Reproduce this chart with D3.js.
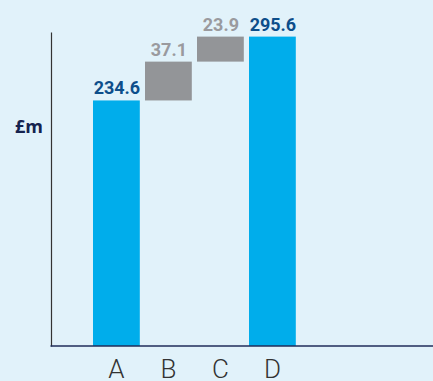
<!DOCTYPE html>
<html>
<head>
<meta charset="utf-8">
<script src="https://cdn.jsdelivr.net/npm/d3@7"></script>
<style>
  html, body { margin: 0; padding: 0; background: #e1f2fa; }
  svg { display: block; }
</style>
</head>
<body>
<svg id="chart" width="433" height="381"></svg>
<script>
// Waterfall: opening total, two increments, closing total (£m)
const categories = ["A", "B", "C", "D"];
const values = [234.6, 37.1, 23.9, 295.6];
const kinds = ["total", "step", "step", "total"];
const unitLabel = "£m";

const colors = { total: "#00adeb", step: "#939598" };
const labelColors = { total: "#0d4e8a", step: "#9a9a9e" };

const svg = d3.select("#chart");
const W = 433, H = 381;

svg.append("rect").attr("width", W).attr("height", H).attr("fill", "#e1f2fa");

const x = d3.scaleBand()
  .domain(categories)
  .range([90.4, 298.4])
  .paddingInner(0.1)
  .paddingOuter(0.05);

const y = d3.scaleLinear().domain([0, 300]).range([346, 32]);

// running start/end for each bar
let running = 0;
const bars = categories.map((c, i) => {
  let y0, y1;
  if (kinds[i] === "total") { y0 = 0; y1 = values[i]; running = values[i]; }
  else { y0 = running; y1 = running + values[i]; running = y1; }
  return { cat: c, v: values[i], kind: kinds[i], y0, y1 };
});

svg.selectAll("rect.bar")
  .data(bars)
  .join("rect")
  .attr("class", "bar")
  .attr("x", d => x(d.cat))
  .attr("width", x.bandwidth())
  .attr("y", d => y(d.y1))
  .attr("height", d => y(d.y0) - y(d.y1))
  .attr("fill", d => colors[d.kind]);

svg.selectAll("text.val")
  .data(bars)
  .join("text")
  .attr("class", "val")
  .attr("x", d => x(d.cat) + x.bandwidth() / 2 + 0.5)
  .attr("y", d => y(d.y1) - 6)
  .attr("text-anchor", "middle")
  .attr("font-family", "Roboto, 'Liberation Sans', Arial, sans-serif")
  .attr("font-weight", 700)
  .attr("font-size", 18)
  .attr("fill", d => labelColors[d.kind])
  .text(d => d.v.toFixed(1));

// left axis line
const yAxis = d3.axisLeft(y).tickValues([]).tickSizeOuter(0);
const gy = svg.append("g").attr("transform", "translate(51,0)").call(yAxis);
gy.select(".domain").attr("stroke", "#333333").attr("stroke-width", 1.2);

// category axis
const xAxis = d3.axisBottom(x).tickSize(0).tickPadding(14);
const gx = svg.append("g").attr("transform", "translate(0,346)").call(xAxis);
gx.select(".domain").remove();
gx.selectAll("text")
  .attr("font-family", "Roboto, 'Liberation Sans', Arial, sans-serif")
  .attr("font-weight", 300)
  .attr("font-size", 26)
  .attr("fill", "#333333");

// baseline
svg.append("line")
  .attr("x1", 50.5).attr("x2", W)
  .attr("y1", 346).attr("y2", 346)
  .attr("stroke", "#1f2d5a").attr("stroke-width", 1.6);

// unit label
svg.append("text")
  .attr("x", 43).attr("y", 133)
  .attr("text-anchor", "end")
  .attr("font-family", "'Open Sans', Roboto, Arial, sans-serif")
  .attr("font-weight", 700)
  .attr("font-size", 18)
  .attr("fill", "#14234f")
  .text(unitLabel);
</script>
</body>
</html>
